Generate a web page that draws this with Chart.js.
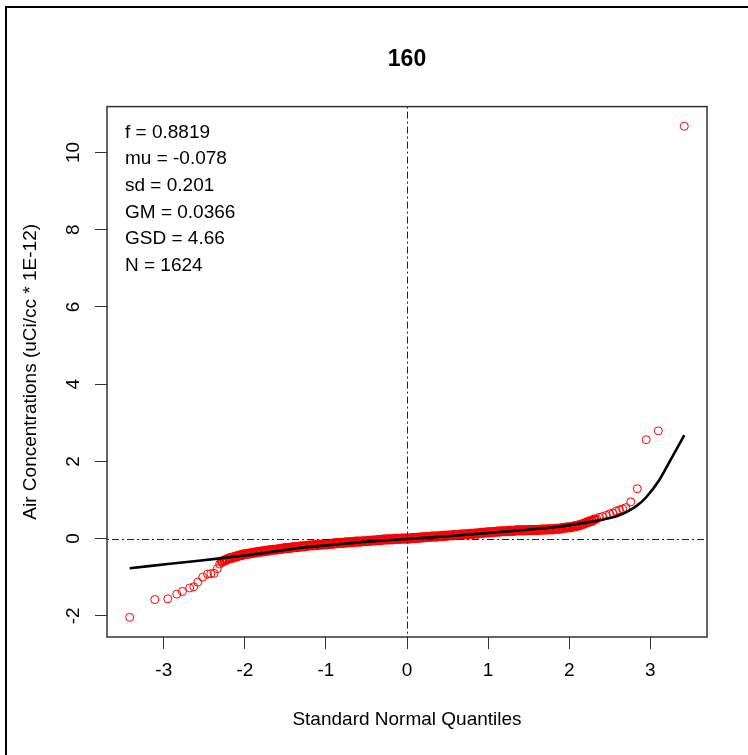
<!DOCTYPE html>
<html>
<head>
<meta charset="utf-8">
<script src="https://cdn.jsdelivr.net/npm/chart.js@4.4.1/dist/chart.umd.min.js"></script>
<style>
  html, body { margin: 0; padding: 0; background: #fff; }
  canvas { display: block; }
</style>
</head>
<body>
<canvas id="qqChart" width="748" height="755"></canvas>
<script>
"use strict";

//--------------------DATA

const chartTitle = "160";
const xAxisTitle = "Standard Normal Quantiles";
const yAxisTitle = "Air Concentrations (uCi/cc * 1E-12)";

const xTicks = [-3, -2, -1, 0, 1, 2, 3];
const yTicks = [-2, 0, 2, 4, 6, 8, 10];

const statLines = [
  "f = 0.8819",
  "mu = -0.078",
  "sd = 0.201",
  "GM = 0.0366",
  "GSD = 4.66",
  "N = 1624",
];

// sample points (normal quantile, value)
const sampleQuantiles = [
  -3.42, -3.11, -2.95, -2.84, -2.77, -2.68, -2.63, -2.58, -2.52, -2.46,
  -2.42, -2.38, -2.34, -2.31,
  -2.28, -2.25, -2.22, -2.19, -2.16, -2.13, -2.10, -2.07, -2.04, -2.01,
  -1.98, -1.95, -1.92, -1.89, -1.86, -1.83, -1.80, -1.77, -1.74, -1.71,
  -1.68, -1.65, -1.62, -1.59, -1.56, -1.53, -1.50, -1.47, -1.44, -1.41,
  -1.38, -1.35, -1.32, -1.29, -1.26, -1.23, -1.20, -1.17, -1.14, -1.11,
  -1.08, -1.05, -1.02, -0.99, -0.96, -0.93, -0.90, -0.87, -0.84, -0.81,
  -0.78, -0.75, -0.72, -0.69, -0.66, -0.63, -0.60, -0.57, -0.54, -0.51,
  -0.48, -0.45, -0.42, -0.39, -0.36, -0.33, -0.30, -0.27, -0.24, -0.21,
  -0.18, -0.15, -0.12, -0.09, -0.06, -0.03, 0.00, 0.03, 0.06, 0.09,
  0.12, 0.15, 0.18, 0.21, 0.24, 0.27, 0.30, 0.33, 0.36, 0.39,
  0.42, 0.45, 0.48, 0.51, 0.54, 0.57, 0.60, 0.63, 0.66, 0.69,
  0.72, 0.75, 0.78, 0.81, 0.84, 0.87, 0.90, 0.93, 0.96, 0.99,
  1.02, 1.05, 1.08, 1.11, 1.14, 1.17, 1.20, 1.23, 1.26, 1.29,
  1.32, 1.35, 1.38, 1.41, 1.44, 1.47, 1.50, 1.53, 1.56, 1.59,
  1.62, 1.65, 1.68, 1.71, 1.74, 1.77, 1.80, 1.83, 1.86, 1.89,
  1.92, 1.95, 1.98, 2.01, 2.04, 2.07, 2.10, 2.13, 2.16, 2.19,
  2.22, 2.25, 2.28, 2.31,
  2.34, 2.37, 2.41, 2.46, 2.50, 2.54, 2.58, 2.62, 2.66, 2.70,
  2.76, 2.84, 2.95, 3.10, 3.42,
];
const sampleValues = [
  -2.04, -1.58, -1.56, -1.44, -1.37, -1.28, -1.25, -1.13, -1.00, -0.92,
  -0.91, -0.90, -0.78, -0.66,
  -0.60, -0.57, -0.54, -0.51, -0.50, -0.48, -0.46, -0.44, -0.43, -0.41,
  -0.40, -0.39, -0.38, -0.37, -0.36, -0.35, -0.34, -0.33, -0.32, -0.31,
  -0.30, -0.29, -0.29, -0.28, -0.27, -0.26, -0.25, -0.25, -0.24, -0.23,
  -0.22, -0.22, -0.21, -0.20, -0.20, -0.19, -0.18, -0.18, -0.17, -0.17,
  -0.16, -0.16, -0.15, -0.15, -0.14, -0.14, -0.13, -0.12, -0.12, -0.11,
  -0.11, -0.10, -0.10, -0.09, -0.09, -0.08, -0.08, -0.08, -0.07, -0.07,
  -0.06, -0.06, -0.05, -0.05, -0.04, -0.04, -0.03, -0.03, -0.02, -0.02,
  -0.02, -0.01, -0.01, -0.01, 0.00, 0.00, 0.00, 0.00, 0.01, 0.01,
  0.02, 0.02, 0.03, 0.03, 0.04, 0.04, 0.05, 0.05, 0.05, 0.06,
  0.06, 0.07, 0.07, 0.08, 0.08, 0.09, 0.09, 0.09, 0.10, 0.10,
  0.11, 0.11, 0.12, 0.12, 0.13, 0.13, 0.14, 0.15, 0.15, 0.16,
  0.16, 0.17, 0.17, 0.18, 0.18, 0.19, 0.19, 0.19, 0.20, 0.20,
  0.20, 0.21, 0.21, 0.21, 0.21, 0.21, 0.22, 0.22, 0.22, 0.22,
  0.22, 0.23, 0.23, 0.23, 0.24, 0.24, 0.24, 0.25, 0.25, 0.26,
  0.27, 0.28, 0.29, 0.29, 0.30, 0.32, 0.33, 0.35, 0.37, 0.39,
  0.42, 0.44, 0.46, 0.49,
  0.51, 0.55, 0.57, 0.60, 0.64, 0.66, 0.71, 0.74, 0.77, 0.80,
  0.95, 1.29, 2.56, 2.79, 10.68,
];

// fitted curve
const fitQuantiles = [
  -3.42, -2.95, -2.54, -2.13, -1.72, -1.31, -0.91, -0.50, 0.00, 0.50,
  1.14, 1.76, 2.17, 2.54, 2.70, 2.84, 2.95, 3.11, 3.27, 3.42,
];
const fitValues = [
  -0.77, -0.66, -0.57, -0.47, -0.36, -0.24, -0.16, -0.08, -0.01, 0.06,
  0.17, 0.28, 0.40, 0.55, 0.68, 0.86, 1.07, 1.51, 2.11, 2.68,
];

//--------------------HELPERS

function toPairs(xs, ys) {
  let pairs = [];
  for (let i = 0; i < xs.length; i++) {
    pairs.push({ x: xs[i], y: ys[i] });
  }
  return pairs;
}

// where the sample points pile up into one solid band
function inDenseBand(context) {
  const p = context.raw;
  return p && p.x > -2.3 && p.x < 2.32;
}

const fontFamily = "'Liberation Sans', Arial, sans-serif";

// white page, outer frame, plot box, reference lines and the stats text
const decorations = {
  id: "decorations",
  beforeDraw(chart) {
    const ctx = chart.ctx;
    ctx.save();
    ctx.fillStyle = "#ffffff";
    ctx.fillRect(0, 0, chart.width, chart.height);
    ctx.fillStyle = "#000000";
    ctx.fillRect(5, 6, chart.width, 2);
    ctx.fillRect(5, 6, 2, chart.height);
    ctx.restore();
  },
  afterDatasetsDraw(chart) {
    const ctx = chart.ctx;
    const area = chart.chartArea;
    const x0 = chart.scales.x.getPixelForValue(0);
    const y0 = chart.scales.y.getPixelForValue(0);
    ctx.save();
    ctx.strokeStyle = "#222222";
    ctx.lineWidth = 1;
    ctx.setLineDash([2, 3, 7, 3]);
    ctx.beginPath();
    ctx.moveTo(Math.round(x0) + 0.5, area.top);
    ctx.lineTo(Math.round(x0) + 0.5, area.bottom);
    ctx.moveTo(area.left, Math.round(y0) + 0.5);
    ctx.lineTo(area.right, Math.round(y0) + 0.5);
    ctx.stroke();
    ctx.setLineDash([]);

    ctx.strokeStyle = "#333333";
    ctx.lineWidth = 1.5;
    ctx.strokeRect(area.left, area.top, area.right - area.left, area.bottom - area.top);

    ctx.fillStyle = "#000000";
    ctx.font = "19px " + fontFamily;
    ctx.textAlign = "left";
    ctx.textBaseline = "middle";
    for (let i = 0; i < statLines.length; i++) {
      ctx.fillText(statLines[i], area.left + 18, area.top + 26 + i * 26.6);
    }
    ctx.restore();
  },
};

//--------------------CHART

const ctx = document.getElementById("qqChart").getContext("2d");
const qqChart = new Chart(ctx, {
  type: "scatter",
  data: {
    datasets: [
      {
        type: "line",
        label: "fit",
        data: toPairs(fitQuantiles, fitValues),
        borderColor: "#000000",
        borderWidth: 2.6,
        pointRadius: 0,
        tension: 0.2,
        fill: false,
        order: 0,
      },
      {
        label: "samples",
        data: toPairs(sampleQuantiles, sampleValues),
        borderColor: "#ff0000",
        backgroundColor: "rgba(0,0,0,0)",
        borderWidth: (c) => (inDenseBand(c) ? 2.2 : 1),
        pointRadius: 4,
        pointHoverRadius: 4,
        order: 1,
      },
    ],
  },
  options: {
    responsive: false,
    animation: false,
    devicePixelRatio: 1,
    layout: {
      padding: { left: 8, right: 41, top: 10, bottom: 0 },
    },
    plugins: {
      legend: { display: false },
      tooltip: { enabled: false },
      title: {
        display: true,
        text: chartTitle,
        fullSize: false,
        color: "#000000",
        font: { family: fontFamily, size: 23, weight: "bold" },
        padding: { top: 36, bottom: 33 },
      },
    },
    scales: {
      x: {
        type: "linear",
        min: -3.7,
        max: 3.7,
        afterBuildTicks(scale) {
          scale.ticks = xTicks.map((v) => ({ value: v }));
        },
        afterFit(scale) {
          scale.height = 118;
        },
        grid: {
          drawOnChartArea: false,
          drawTicks: true,
          tickLength: 12,
          color: "#333333",
        },
        border: { display: false },
        ticks: {
          color: "#000000",
          padding: 10,
          font: { family: fontFamily, size: 19 },
        },
        title: {
          display: true,
          text: xAxisTitle,
          color: "#000000",
          font: { family: fontFamily, size: 19 },
          padding: { top: 0, bottom: 24 },
        },
      },
      y: {
        type: "linear",
        min: -2.55,
        max: 11.19,
        afterBuildTicks(scale) {
          scale.ticks = yTicks.map((v) => ({ value: v }));
        },
        afterFit(scale) {
          scale.width = 99;
        },
        grid: {
          drawOnChartArea: false,
          drawTicks: true,
          tickLength: 12,
          color: "#333333",
        },
        border: { display: false },
        ticks: {
          color: "#000000",
          padding: 11,
          minRotation: 90,
          maxRotation: 90,
          crossAlign: "center",
          font: { family: fontFamily, size: 19 },
        },
        title: {
          display: true,
          text: yAxisTitle,
          color: "#000000",
          font: { family: fontFamily, size: 19 },
          padding: { top: 11, bottom: 0 },
        },
      },
    },
  },
  plugins: [decorations],
});
</script>
</body>
</html>
